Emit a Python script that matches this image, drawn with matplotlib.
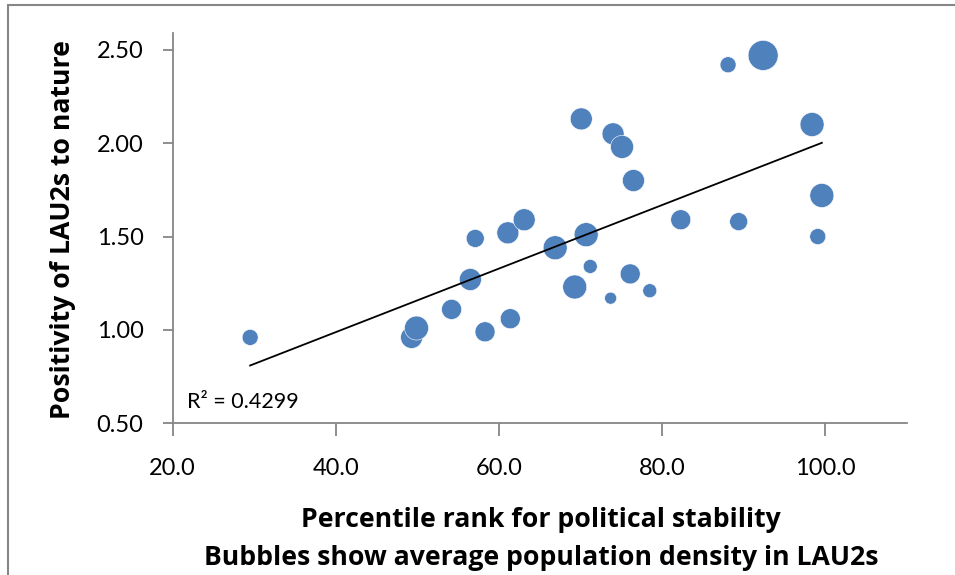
import numpy as np
import matplotlib
matplotlib.use('Agg')
from matplotlib import pyplot as plt
from matplotlib.patches import Rectangle

# Percentile rank for political stability (x), positivity to nature (y)
stability = [29.5, 49.3, 49.9, 54.2, 56.5, 57.1, 58.3, 61.1, 61.4, 63.1,
             66.9, 69.3, 70.1, 70.7, 71.2, 73.7, 74.0, 75.1, 76.1, 76.5,
             78.5, 82.3, 88.1, 89.4, 92.4, 98.4, 99.1, 99.6]
positivity = [0.96, 0.96, 1.01, 1.11, 1.27, 1.49, 0.99, 1.52, 1.06, 1.59,
              1.44, 1.23, 2.13, 1.51, 1.34, 1.17, 2.05, 1.98, 1.30, 1.80,
              1.21, 1.59, 2.42, 1.58, 2.47, 2.10, 1.50, 1.72]
# relative average population density (bubble area)
density = [0.64, 1.21, 1.44, 1.00, 1.21, 0.81, 1.00, 1.21, 1.00, 1.21,
           1.44, 1.44, 1.21, 1.44, 0.49, 0.36, 1.21, 1.32, 1.00, 1.21,
           0.49, 1.00, 0.64, 0.81, 2.25, 1.44, 0.64, 1.44]

xticks = [20, 40, 60, 80, 100]
yticks = [0.5, 1.0, 1.5, 2.0, 2.5]
r2_label = 'R² = 0.4299'

plt.rcParams['font.family'] = ['Lato', 'DejaVu Sans']

fig = plt.figure(figsize=(9.55, 5.75), dpi=100)
ax = fig.add_axes([0.1808, 0.2638, 0.7686, 0.6788])

# bubble area ~ density, radius 10 px for density 1
sizes = [d * (20 * 0.72) ** 2 for d in density]
ax.scatter(stability, positivity, s=sizes, c='#4F81BD', edgecolors='white',
           linewidths=0.4, zorder=3, clip_on=False)

# linear trendline
slope, icpt = np.polyfit(stability, positivity, 1)
tx = np.array([min(stability), max(stability)])
ax.plot(tx, slope * tx + icpt, color='black', lw=1.3, zorder=4)

ax.set_xlim(20, 110)
ax.set_ylim(0.5, 2.59)
ax.set_xticks(xticks)
ax.set_yticks(yticks)
ax.set_xticklabels(['%.1f' % v for v in xticks])
ax.set_yticklabels(['%.2f' % v for v in yticks])

gray = '#868686'
for side in ['top', 'right']:
    ax.spines[side].set_visible(False)
for side in ['left', 'bottom']:
    ax.spines[side].set_color(gray)
    ax.spines[side].set_linewidth(1.3)
ax.tick_params(axis='x', direction='out', length=9, width=1.3, color=gray,
               labelsize=17, pad=16)
ax.tick_params(axis='y', direction='out', length=7, width=1.3, color=gray,
               labelsize=17, pad=14)

ax.text(187 / 955, 1 - 402 / 575, r2_label, transform=fig.transFigure,
        fontsize=15.5, va='center', ha='left')

title_font = dict(family='Open Sans', fontsize=19.2, fontweight='bold')
fig.text(63 / 955, 1 - 230 / 575, 'Positivity of LAU2s to nature',
         rotation=90, ha='center', va='center', **title_font)
fig.text(541 / 955, 1 - 520 / 575, 'Percentile rank for political stability',
         ha='center', va='center', **title_font)
fig.text(541 / 955, 1 - 558 / 575, 'Bubbles show average population density in LAU2s',
         ha='center', va='center', **title_font)

# chart border
fig.patches.append(Rectangle((8 / 955, -0.1), 1.2, (1 - 5 / 575) + 0.1,
                             transform=fig.transFigure, fill=False,
                             edgecolor=gray, lw=1.5))

fig.savefig('out.png', dpi=100)
